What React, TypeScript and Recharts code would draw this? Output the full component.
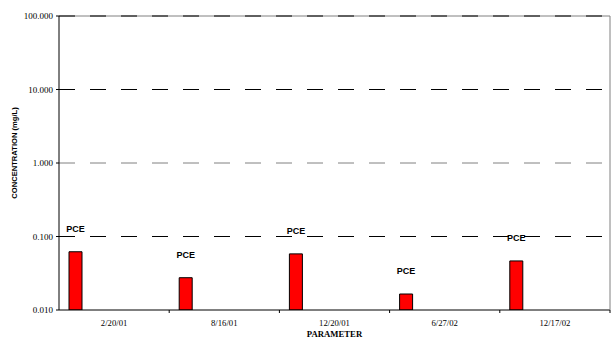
import React from 'react';
import { BarChart, Bar, XAxis, YAxis, ReferenceLine, LabelList } from 'recharts';

// sampling dates and PCE results (mg/L)
const dates = ['2/20/01', '8/16/01', '12/20/01', '6/27/02', '12/17/02'];
const pce = [0.062, 0.0275, 0.058, 0.0165, 0.0465];
// other parameters on the original sheet had no detections -> empty slots
const otherParams = ['p2', 'p3', 'p4', 'p5', 'p6', 'p7'];
const yTicks = [0.01, 0.1, 1, 10, 100];

const data = dates.map((d, i) => {
  const row: Record<string, any> = { date: d, PCE: pce[i] };
  otherParams.forEach((k) => { row[k] = null; });
  return row;
});

const W = 611;
const H = 339;
const LEFT = 59;
const RIGHT_W = 1;
const BAND = (W - LEFT - RIGHT_W) / dates.length;

const serif = '"Liberation Serif", "Times New Roman", serif';
const sans = '"Liberation Sans", Arial, sans-serif';

const DateTick = (props: any) => {
  const { x, y, payload } = props;
  const edge = x + BAND / 2;
  return (
    <g>
      <line x1={edge} x2={edge} y1={y} y2={y + 3} stroke="#000" />
      <text x={x} y={y + 16} textAnchor="middle" fontFamily={serif} fontSize={8.7} fill="#000">
        {payload.value}
      </text>
    </g>
  );
};

const PceLabel = (props: any) => {
  const { x, y, width } = props;
  return (
    <text x={x + width / 2} y={y - 20} textAnchor="middle" fontFamily={sans} fontWeight="bold" fontSize={9} fill="#000">
      PCE
    </text>
  );
};

export default function App() {
  return (
    <div style={{ position: 'absolute', left: 0, top: 0, width: W, height: H, background: '#fff' }}>
      <BarChart
        width={W}
        height={H}
        data={data}
        margin={{ top: 16, right: 0, bottom: 0, left: 0 }}
        barCategoryGap={10}
        barGap={0}
      >
        <XAxis
          dataKey="date"
          height={29}
          tickLine={false}
          tickSize={0}
          tickMargin={0}
          axisLine={{ stroke: '#000' }}
          tick={<DateTick />}
          interval={0}
          label={{
            content: () => (
              <text x={(LEFT + W - RIGHT_W) / 2} y={337} textAnchor="middle" fontFamily={serif} fontWeight="bold" fontSize={8.7} fill="#000">
                PARAMETER
              </text>
            ),
          }}
        />
        <YAxis
          scale="log"
          domain={[0.01, 100]}
          ticks={yTicks}
          allowDataOverflow
          width={LEFT}
          tickSize={3}
          tickMargin={3}
          tickLine={{ stroke: '#000' }}
          axisLine={{ stroke: '#000' }}
          tick={{ fontFamily: serif, fontSize: 9, fill: '#000' }}
          tickFormatter={(v: number) => v.toFixed(3)}
          label={{
            content: () => (
              <text transform="translate(17,153) rotate(-90)" textAnchor="middle" fontFamily={sans} fontWeight="bold" fontSize={7.6} fill="#000">
                CONCENTRATION (mg/L)
              </text>
            ),
          }}
        />
        <YAxis yAxisId="frame" orientation="right" width={RIGHT_W} tick={false} tickLine={false} axisLine={{ stroke: '#808080' }} />
        <ReferenceLine y={100} stroke="#808080" ifOverflow="extendDomain" />
        <ReferenceLine y={100} stroke="#000" strokeDasharray="16 15" />
        <ReferenceLine y={10} stroke="#000" strokeDasharray="16 15" />
        <ReferenceLine y={1} stroke="#808080" strokeDasharray="16 15" />
        <ReferenceLine y={0.1} stroke="#000" strokeDasharray="16 15" />
        <Bar dataKey="PCE" fill="#ff0000" stroke="#000" strokeWidth={1} isAnimationActive={false}>
          <LabelList dataKey="PCE" content={<PceLabel />} />
        </Bar>
        {otherParams.map((k) => (
          <Bar key={k} dataKey={k} fill="#ff0000" isAnimationActive={false} />
        ))}
      </BarChart>
    </div>
  );
}
